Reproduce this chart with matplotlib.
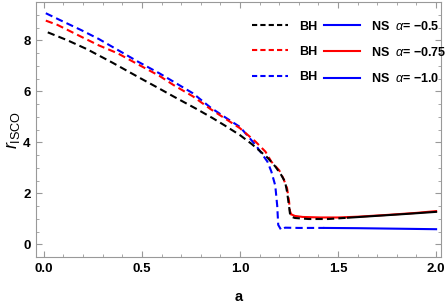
import matplotlib
matplotlib.use('Agg')
import matplotlib.pyplot as plt
from matplotlib.lines import Line2D
import numpy as np

plt.rcParams['font.family'] = 'Liberation Sans'
plt.rcParams['mathtext.fontset'] = 'custom'
plt.rcParams['mathtext.rm'] = 'Liberation Sans'
plt.rcParams['mathtext.it'] = 'Liberation Sans:italic'
plt.rcParams['mathtext.bf'] = 'Liberation Sans:bold'

# BH branch, alpha = -0.5 (black, dashed)
a_bh1 = [0.02, 0.12, 0.22, 0.35, 0.49, 0.59, 0.66, 0.78, 0.86, 0.92, 1.0, 1.06, 1.14,
         1.18, 1.21, 1.23, 1.24, 1.25, 1.255, 1.262, 1.28, 1.35, 1.45, 1.55]
r_bh1 = [8.31, 8.0, 7.65, 7.12, 6.52, 6.1, 5.8, 5.3, 4.95, 4.67, 4.28, 3.93, 3.4,
         3.05, 2.72, 2.45, 2.06, 1.5, 1.2, 1.08, 1.03, 0.99, 0.99, 1.04]
a_ns1 = [1.55, 1.65, 1.75, 1.85, 2.0]
r_ns1 = [1.04, 1.09, 1.14, 1.19, 1.27]

# alpha = -0.75 (red)
a_bh2 = [0.01, 0.07, 0.19, 0.28, 0.376, 0.486, 0.59, 0.66, 0.76, 0.85, 0.93, 1.0, 1.08,
         1.13, 1.16, 1.2, 1.22, 1.24, 1.25, 1.255, 1.262]
r_bh2 = [8.77, 8.6, 8.14, 7.8, 7.49, 7.03, 6.6, 6.25, 5.8, 5.3, 4.9, 4.55, 4.02,
         3.63, 3.24, 2.9, 2.6, 2.2, 1.7, 1.3, 1.15]
a_ns2 = [1.262, 1.28, 1.32, 1.41, 1.5, 1.6, 1.75, 1.9, 2.0]
r_ns2 = [1.17, 1.11, 1.07, 1.05, 1.05, 1.08, 1.15, 1.23, 1.3]

# alpha = -1.0 (blue)
a_bh3 = [0.01, 0.08, 0.19, 0.28, 0.37, 0.48, 0.59, 0.66, 0.76, 0.85, 0.93, 1.0, 1.08,
         1.14, 1.16, 1.18, 1.19, 1.195, 1.21, 1.23, 1.3, 1.43]
r_bh3 = [9.06, 8.8, 8.4, 8.05, 7.65, 7.16, 6.7, 6.38, 5.92, 5.36, 4.95, 4.6, 3.89,
         3.24, 2.85, 2.3, 1.5, 0.76, 0.56, 0.65, 0.64, 0.64]
a_ns3 = [1.43, 1.6, 1.8, 2.0]
r_ns3 = [0.64, 0.63, 0.61, 0.59]

alphas = ['-0.5', '-0.75', '-1.0']

fig = plt.figure(figsize=(4.47, 3.05), dpi=100)
ax = fig.add_axes([36/447, 1 - 257/305, 405/447, 255/305])

dash = (3.5, 2)
lw = 1.5
ax.plot(a_bh3, r_bh3, color='blue', lw=lw, dashes=dash)
ax.plot(a_ns3, r_ns3, color='blue', lw=lw)
ax.plot(a_bh2, r_bh2, color='red', lw=lw, dashes=dash)
ax.plot(a_ns2, r_ns2, color='red', lw=lw)
ax.plot(a_bh1, r_bh1, color='black', lw=lw, dashes=dash)
ax.plot(a_ns1, r_ns1, color='black', lw=lw)

ax.set_xlim(-0.04, 2.025)
ax.set_ylim(-0.5, 9.5)
ax.set_xticks([0.0, 0.5, 1.0, 1.5, 2.0])
ax.set_xticks(np.arange(0, 2.01, 0.1), minor=True)
ax.set_yticks([0, 2, 4, 6, 8])
ax.set_yticks(np.arange(0, 9.01, 0.5), minor=True)
ax.set_xticklabels(['0.0', '0.5', '1.0', '1.5', '2.0'])

for s in ax.spines.values():
    s.set_color('#999999')
    s.set_linewidth(0.8)
ax.tick_params(which='both', direction='in', top=True, right=True, color='#999999',
               labelsize=9.5, pad=4)
ax.tick_params(which='major', length=4, width=0.8)
ax.tick_params(which='minor', length=2.5, width=0.6)
for lab in ax.get_xticklabels() + ax.get_yticklabels():
    lab.set_fontweight('bold')

ax.set_xlabel('a', fontsize=10.5, fontweight='bold', labelpad=11)
ax.set_ylabel(r'$r_{\mathrm{ISCO}}$', fontsize=13, labelpad=1)

handles = [Line2D([], [], color='black', lw=lw, dashes=(2.5, 1.5)),
           Line2D([], [], color='red', lw=lw, dashes=(2.5, 1.5)),
           Line2D([], [], color='blue', lw=lw, dashes=(2.5, 1.5)),
           Line2D([], [], color='blue', lw=lw),
           Line2D([], [], color='red', lw=lw),
           Line2D([], [], color='blue', lw=lw)]
labels = ['BH', 'BH', 'BH'] + ['NS  $\\alpha$= \u2212' + v[1:] for v in alphas]
ax.legend(handles, labels, ncol=2, loc='upper right', bbox_to_anchor=(1.03, 0.955),
          frameon=False, prop={'weight': 'bold', 'size': 9}, handlelength=2.9,
          handletextpad=0.9, columnspacing=0.5, labelspacing=1.05, borderaxespad=0.1)

fig.savefig('out.png', dpi=100)
